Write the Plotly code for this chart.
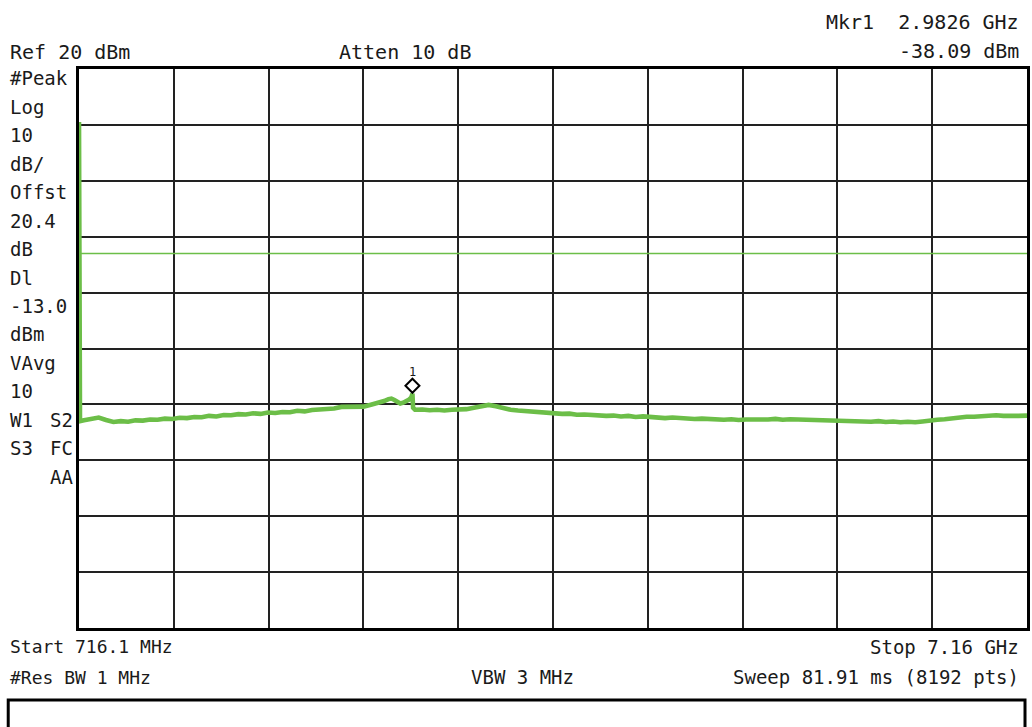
import plotly.graph_objects as go

# Sweep settings
START_GHZ = 0.7161
STOP_GHZ = 7.16
REF_DBM = 20
DB_PER_DIV = 10
DISPLAY_LINE_DBM = -13.0
MKR_GHZ = 2.9826
MKR_DBM = -38.09

# Trace (frequency in GHz, level in dBm)
FREQ_GHZ = [
    0.7161, 0.7229, 0.75, 0.80, 0.85, 0.90, 0.95, 1.00, 1.05, 1.10, 1.15, 1.20,
    1.25, 1.30, 1.35, 1.40, 1.45, 1.50, 1.55, 1.60, 1.65, 1.70, 1.75, 1.80,
    1.85, 1.90, 1.95, 2.00, 2.05, 2.10, 2.15, 2.20, 2.25, 2.30, 2.35, 2.40,
    2.45, 2.50, 2.55, 2.60, 2.65, 2.70, 2.75, 2.79, 2.82, 2.84, 2.86, 2.88,
    2.90, 2.92, 2.94, 2.96, 2.975, 2.9826, 2.987, 3.00, 3.05, 3.10, 3.15, 3.20,
    3.25, 3.30, 3.35, 3.40, 3.45, 3.50, 3.55, 3.60, 3.65, 3.70, 3.75, 3.80,
    3.85, 3.90, 3.95, 4.00, 4.05, 4.10, 4.15, 4.20, 4.25, 4.30, 4.35, 4.40,
    4.45, 4.50, 4.55, 4.60, 4.65, 4.70, 4.75, 4.80, 4.85, 4.90, 4.95, 5.00,
    5.05, 5.10, 5.15, 5.20, 5.25, 5.30, 5.35, 5.40, 5.45, 5.50, 5.55, 5.60,
    5.65, 5.70, 5.75, 5.80, 5.85, 5.90, 5.95, 6.00, 6.05, 6.10, 6.15, 6.20,
    6.25, 6.30, 6.35, 6.40, 6.45, 6.50, 6.55, 6.60, 6.65, 6.70, 6.75, 6.80,
    6.85, 6.90, 6.95, 7.00, 7.05, 7.10, 7.16,
]
LEVEL_DBM = [
    10.5, -43.0, -42.85, -42.7, -42.35, -42.8, -43.15, -43.0, -43.1, -42.85, -42.9, -42.7,
    -42.75, -42.55, -42.6, -42.4, -42.45, -42.25, -42.3, -42.05, -42.15, -41.9, -41.95, -41.75,
    -41.8, -41.6, -41.7, -41.45, -41.55, -41.35, -41.4, -41.15, -41.25, -41.0, -40.95, -40.7,
    -40.75, -40.45, -40.5, -40.35, -40.4, -40.05, -39.75, -39.4, -39.05, -38.95, -39.2, -39.65,
    -39.85, -39.7, -39.45, -39.15, -38.75, -38.09, -40.6, -40.95, -40.9, -41.05, -40.95, -41.1,
    -40.95, -41.0, -40.85, -40.6, -40.35, -40.1, -40.35, -40.7, -40.95, -41.1, -41.2, -41.4,
    -41.45, -41.6, -41.55, -41.7, -41.65, -41.85, -41.8, -41.95, -41.9, -42.05, -42.0, -42.15,
    -42.05, -42.25, -42.15, -42.3, -42.25, -42.45, -42.35, -42.5, -42.45, -42.6, -42.55, -42.65,
    -42.6, -42.75, -42.65, -42.8, -42.7, -42.75, -42.65, -42.7, -42.6, -42.75, -42.65, -42.7,
    -42.7, -42.8, -42.75, -42.9, -42.85, -42.95, -42.9, -43.05, -42.95, -43.1, -43.0, -43.15,
    -43.05, -43.2, -43.1, -43.2, -43.05, -43.0, -42.75, -42.65, -42.45, -42.35, -42.2, -42.2,
    -42.05, -42.1, -41.95, -42.05, -41.95, -42.05, -42.0,
]

TRACE_GREEN = "rgb(108,190,72)"
INK = "#1a1a1a"
FONT = "DejaVu Sans Mono"

W, H = 1032, 727
L, R, T, B = 79, 2, 69, 99
PW, PH = W - L - R, H - T - B


def px(x):
    return (x - L) / PW


def py(y):
    return (H - B - y) / PH


fig = go.Figure()
fig.add_trace(go.Scatter(
    x=FREQ_GHZ, y=LEVEL_DBM, mode="lines",
    line=dict(color=TRACE_GREEN, width=4.6),
    hoverinfo="skip", showlegend=False,
))

span = STOP_GHZ - START_GHZ
fig.update_xaxes(
    range=[START_GHZ, STOP_GHZ], tick0=START_GHZ, dtick=span / 10,
    showgrid=True, gridcolor="#222", gridwidth=1.6,
    showticklabels=False, ticks="", zeroline=False,
    showline=True, linecolor="#000", linewidth=3, mirror=True,
)
fig.update_yaxes(
    range=[REF_DBM - 10 * DB_PER_DIV, REF_DBM], tick0=REF_DBM, dtick=DB_PER_DIV,
    showgrid=True, gridcolor="#222", gridwidth=1.6,
    showticklabels=False, ticks="", zeroline=False,
    showline=True, linecolor="#000", linewidth=3, mirror=True,
)

shapes = [
    # display line
    dict(type="line", xref="paper", x0=0, x1=1, yref="y",
         y0=DISPLAY_LINE_DBM, y1=DISPLAY_LINE_DBM,
         line=dict(color=TRACE_GREEN, width=1.6), layer="above"),
    # marker diamond, sitting on the peak
    dict(type="path", xref="x", yref="y", xsizemode="pixel", ysizemode="pixel",
         xanchor=MKR_GHZ, yanchor=MKR_DBM,
         path="M0,1 L7,8 L0,15 L-7,8 Z",
         line=dict(color="#000", width=2), fillcolor="rgba(0,0,0,0)", layer="above"),
    # message box below the annotations
    dict(type="rect", xref="paper", yref="paper",
         x0=px(8), x1=px(1028), y0=py(760), y1=py(700),
         line=dict(color="#000", width=3)),
]

annotations = []


def label(text, x, y, anchor="left", size=19):
    annotations.append(dict(
        text=text, xref="paper", yref="paper", x=px(x), y=py(y),
        xanchor=anchor, yanchor="middle", showarrow=False,
        font=dict(family=FONT, size=size, color=INK),
    ))


label("Ref 20 dBm", 8, 52, size=20)
label("Atten 10 dB", 338, 52, size=20)
label("Mkr1  2.9826 GHz", 1024, 22, "right", size=20)
label("-38.09 dBm", 1024, 51, "right", size=20)

side = ["#Peak", "Log", "10", "dB/", "Offst", "20.4", "dB", "Dl", "-13.0",
        "dBm", "VAvg", "10"]
for i, s in enumerate(side):
    label(s, 8, 78 + i * 28.5)
label("W1", 8, 420)
label("S2", 75, 420, "right")
label("S3", 8, 448)
label("FC", 75, 448, "right")
label("AA", 75, 477, "right")

label("Start 716.1 MHz", 8, 647, size=18)
label("Stop 7.16 GHz", 1024, 647, "right")
label("#Res BW 1 MHz", 8, 677, size=18)
label("VBW 3 MHz", 470, 677)
label("Sweep 81.91 ms (8192 pts)", 1024, 677, "right")

annotations.append(dict(
    text="1", xref="x", yref="y", x=MKR_GHZ, y=MKR_DBM, yshift=22,
    showarrow=False, font=dict(family=FONT, size=12, color=INK),
))

fig.update_layout(
    width=W, height=H, margin=dict(l=L, r=R, t=T, b=B),
    paper_bgcolor="white", plot_bgcolor="white",
    shapes=shapes, annotations=annotations, showlegend=False,
)

fig.write_html("out.html")
